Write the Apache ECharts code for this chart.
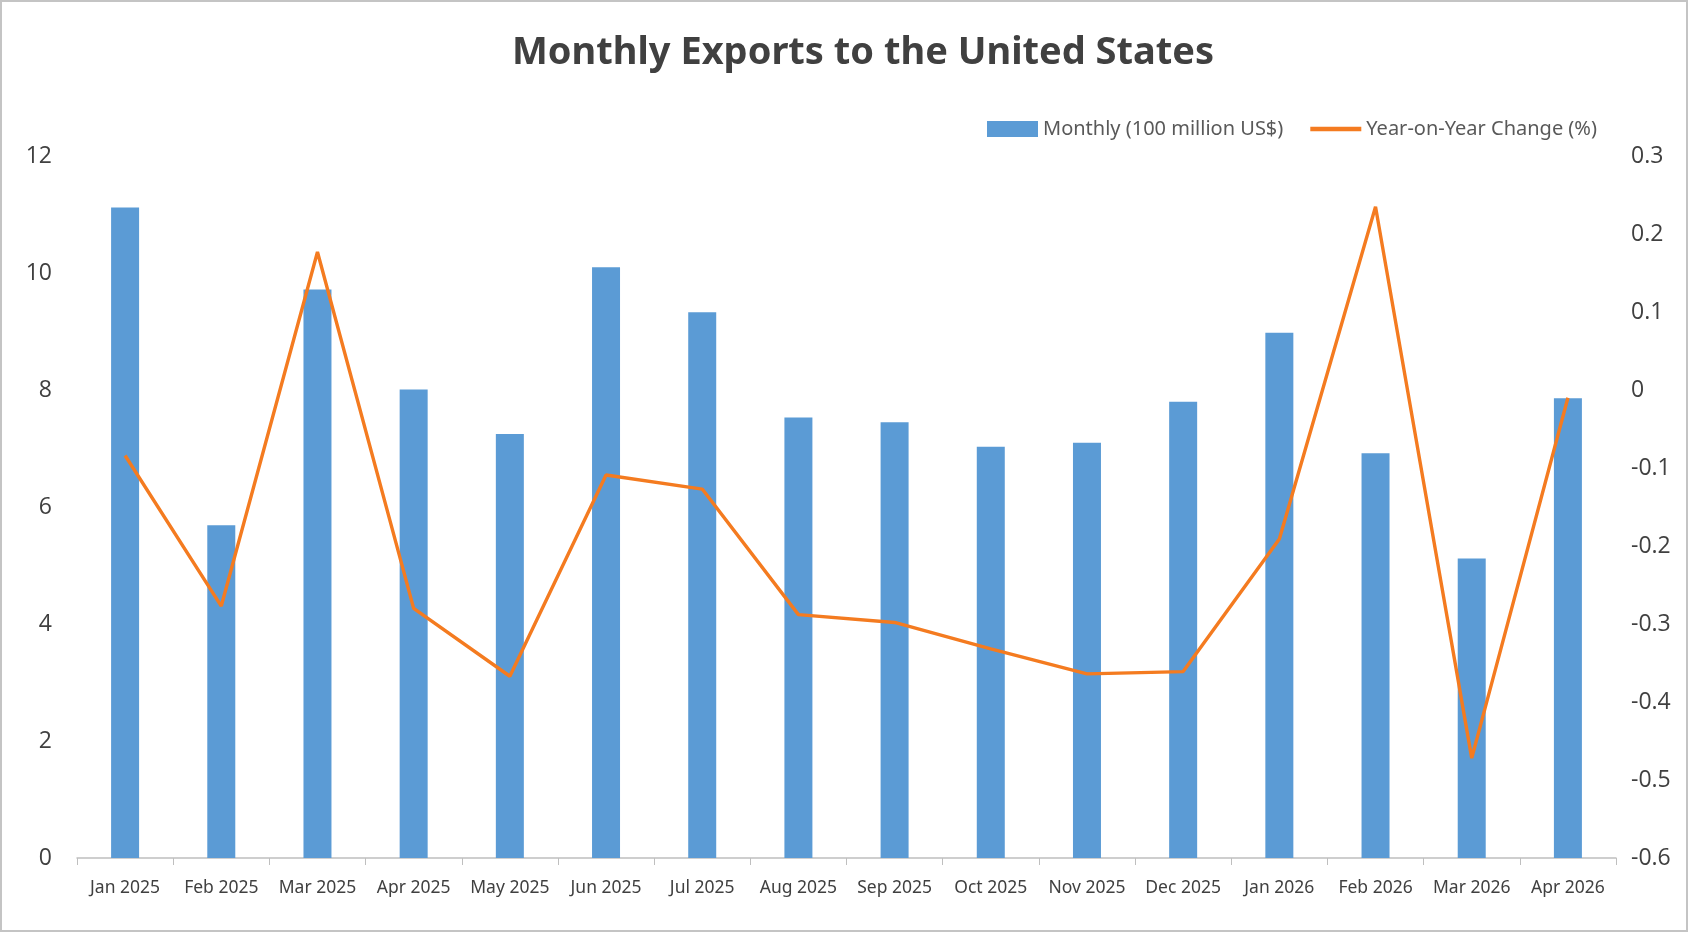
<!DOCTYPE html>
<html>
<head>
<meta charset="utf-8">
<title>Monthly Exports to the United States</title>
<script src="https://cdn.jsdelivr.net/npm/echarts@6.0.0/dist/echarts.min.js"></script>
<style>
    html, body { margin: 0; padding: 0; background: #fff; }
    #wrap { position: relative; width: 1688px; height: 932px; }
    #container { width: 1688px; height: 932px; }
    #frame { position: absolute; left: 0; top: 0; width: 1688px; height: 932px; box-sizing: border-box; border: 2px solid #c4c4c4; pointer-events: none; }
</style>
</head>
<body>
<div id="wrap">
    <div id="container"></div>
    <div id="frame"></div>
</div>
<script>
var months = ["Jan 2025","Feb 2025","Mar 2025","Apr 2025","May 2025","Jun 2025","Jul 2025","Aug 2025",
    "Sep 2025","Oct 2025","Nov 2025","Dec 2025","Jan 2026","Feb 2026","Mar 2026","Apr 2026"];
// 月度出口额 (亿美元)
var monthlyValue = [11.12, 5.69, 9.72, 8.01, 7.25, 10.10, 9.33, 7.53, 7.45, 7.03, 7.10, 7.80, 8.98, 6.92, 5.12, 7.86];
// 同比变化
var yoyChange = [-0.084, -0.277, 0.177, -0.280, -0.367, -0.109, -0.127, -0.288, -0.298, -0.332, -0.364, -0.361, -0.191, 0.235, -0.472, -0.01];
var leftTicks = { min: 0, max: 12, interval: 2 };
var rightTicks = { min: -0.6, max: 0.3, interval: 0.1 };

var barName = "Monthly (100 million US$)";
var lineName = "Year-on-Year Change (%)";
var narrow = "'Liberation Sans Narrow', 'Noto Sans', sans-serif";
var numFont = "'Open Sans', 'Noto Sans', sans-serif";

var myChart = echarts.init(document.getElementById("container"));
var option = {
    animation: false,
    backgroundColor: "#ffffff",
    title: {
        text: "Monthly Exports to the United States",
        left: 507, // 标题略偏右，不是正中
        top: 29,
        textStyle: {
            color: "#404040",
            fontSize: 38,
            fontWeight: "bold",
            fontFamily: narrow
        }
    },
    legend: {
        left: 982,
        top: 114,
        itemGap: 27,
        itemWidth: 51,
        itemHeight: 16,
        selectedMode: false,
        textStyle: { color: "#595959", fontSize: 20, fontFamily: narrow },
        data: [
            { name: barName, icon: "rect" },
            { name: lineName, icon: "path://M0,0L52,0L52,4.5L0,4.5Z" } // 折线图例画成粗线
        ]
    },
    grid: { left: 77, right: 72, top: 156, bottom: 74 },
    xAxis: {
        type: "category",
        data: months,
        boundaryGap: true,
        axisLine: { lineStyle: { color: "#bfbfbf", width: 1.5 } },
        axisTick: { show: true, alignWithLabel: false, length: 7, lineStyle: { color: "#bfbfbf" } },
        axisLabel: { color: "#404040", fontSize: 17.5, fontFamily: narrow, margin: 21, interval: 0 }
    },
    yAxis: [
        {
            type: "value",
            min: leftTicks.min,
            max: leftTicks.max,
            interval: leftTicks.interval,
            axisLine: { show: false },
            axisTick: { show: false },
            splitLine: { show: false },
            axisLabel: { color: "#404040", fontSize: 23, fontFamily: numFont, margin: 25 }
        },
        {
            type: "value",
            min: rightTicks.min,
            max: rightTicks.max,
            interval: rightTicks.interval,
            axisLine: { show: false },
            axisTick: { show: false },
            splitLine: { show: false },
            axisLabel: {
                color: "#404040", fontSize: 23, fontFamily: numFont, margin: 15,
                formatter: function (v) {
                    if (Math.abs(v) < 1e-9) { return "0"; }
                    return v.toFixed(1);
                }
            }
        }
    ],
    series: [
        {
            name: barName,
            type: "bar",
            yAxisIndex: 0,
            barWidth: 28,
            itemStyle: { color: "#5b9bd5" },
            data: monthlyValue
        },
        {
            name: lineName,
            type: "line",
            yAxisIndex: 1,
            symbol: "none",
            lineStyle: { color: "#f47b20", width: 3.4 },
            itemStyle: { color: "#f47b20" },
            data: yoyChange
        }
    ]
};
myChart.setOption(option);
</script>
</body>
</html>
